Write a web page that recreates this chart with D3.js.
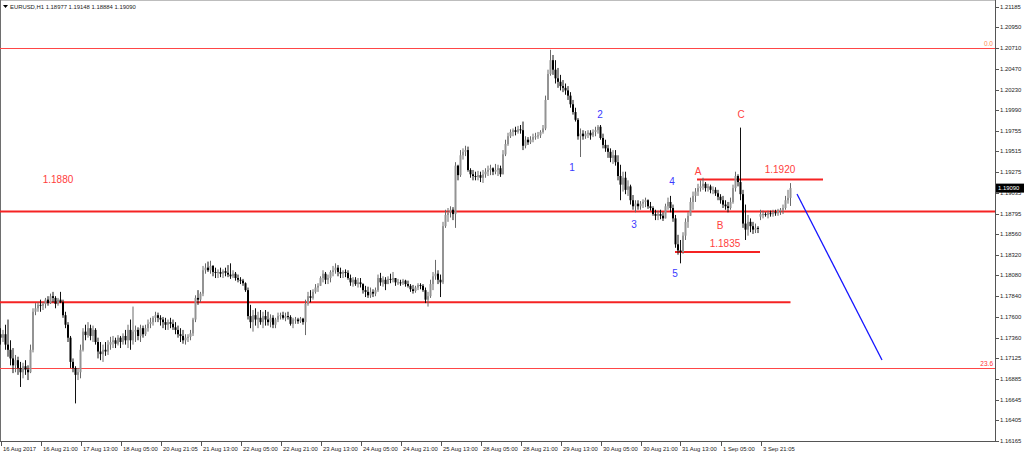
<!DOCTYPE html>
<html>
<head>
<meta charset="utf-8">
<script src="https://cdn.jsdelivr.net/npm/d3@7/dist/d3.min.js"></script>
<style>
    body { margin: 0; background: #fff; overflow: hidden; }
    svg { display: block; font-family: 'Liberation Sans', Arial, sans-serif; }
</style>
</head>
<body>
<svg id="chart" width="1024" height="457"></svg>
<script>
// EURUSD H1, one row = 16 hourly bars (one time label)
const symbolTitle = 'EURUSD,H1';
const lastBar = ['1.18977', '1.19148', '1.18884', '1.19090'];

const timeLabels = [
    '16 Aug 2017', '16 Aug 21:00', '17 Aug 13:00', '18 Aug 05:00', '20 Aug 21:05',
    '21 Aug 13:00', '22 Aug 05:00', '22 Aug 21:00', '23 Aug 13:00', '24 Aug 05:00',
    '24 Aug 21:00', '25 Aug 13:00', '28 Aug 05:00', '28 Aug 21:00', '29 Aug 13:00',
    '30 Aug 05:00', '30 Aug 21:00', '31 Aug 13:00', '1 Sep 05:00', '3 Sep 21:05'
];

const priceTicks = [
    1.21185, 1.20950, 1.20710, 1.20470, 1.20230, 1.19990, 1.19755, 1.19515,
    1.19275, 1.19035, 1.18795, 1.18560, 1.18320, 1.18080, 1.17840, 1.17600,
    1.17360, 1.17125, 1.16885, 1.16645, 1.16405, 1.16165
];

const highs = [
    1.1747,1.1745,1.1751,1.1757,1.1733,1.1724,1.1716,1.1714,1.1708,1.1707,1.1710,1.1704,1.1728,1.1770,1.1776,1.1777,
    1.1780,1.1777,1.1782,1.1784,1.1787,1.1789,1.1784,1.1782,1.1789,1.1780,1.1766,1.1754,1.1738,1.1712,1.1703,1.1701,
    1.1728,1.1747,1.1751,1.1754,1.1751,1.1750,1.1747,1.1736,1.1731,1.1728,1.1731,1.1733,1.1737,1.1738,1.1736,1.1739,
    1.1738,1.1741,1.1745,1.1751,1.1757,1.1772,1.1750,1.1748,1.1751,1.1750,1.1751,1.1757,1.1759,1.1761,1.1766,1.1765,
    1.1762,1.1760,1.1759,1.1757,1.1759,1.1757,1.1754,1.1750,1.1747,1.1745,1.1740,1.1740,1.1745,1.1759,1.1785,1.1791,
    1.1789,1.1819,1.1822,1.1824,1.1825,1.1820,1.1817,1.1815,1.1817,1.1815,1.1817,1.1820,1.1822,1.1814,1.1812,1.1809,
    1.1806,1.1804,1.1800,1.1794,1.1774,1.1768,1.1770,1.1766,1.1768,1.1766,1.1768,1.1766,1.1763,1.1762,1.1759,1.1765,
    1.1765,1.1766,1.1765,1.1766,1.1762,1.1759,1.1760,1.1759,1.1760,1.1759,1.1780,1.1789,1.1791,1.1792,1.1798,1.1799,
    1.1807,1.1814,1.1812,1.1809,1.1814,1.1819,1.1822,1.1820,1.1817,1.1814,1.1815,1.1814,1.1809,1.1806,1.1806,1.1805,
    1.1805,1.1799,1.1796,1.1795,1.1794,1.1792,1.1794,1.1809,1.1811,1.1807,1.1806,1.1807,1.1810,1.1812,1.1805,1.1804,
    1.1803,1.1804,1.1803,1.1802,1.1798,1.1797,1.1796,1.1799,1.1799,1.1798,1.1794,1.1789,1.1803,1.1812,1.1826,1.1814,
    1.1809,1.1870,1.1884,1.1886,1.1888,1.1887,1.1939,1.1936,1.1953,1.1955,1.1958,1.1957,1.1932,1.1930,1.1928,1.1929,
    1.1928,1.1930,1.1932,1.1935,1.1936,1.1933,1.1937,1.1936,1.1935,1.1953,1.1965,1.1973,1.1977,1.1978,1.1980,1.1981,
    1.1982,1.1986,1.1969,1.1968,1.1969,1.1972,1.1973,1.1974,1.1976,1.1982,1.2016,1.2046,1.2069,1.2063,1.2057,1.2048,
    1.2040,1.2034,1.2030,1.2027,1.2020,1.2011,1.2002,1.1990,1.1978,1.1976,1.1975,1.1976,1.1976,1.1977,1.1980,1.1982,
    1.1982,1.1972,1.1965,1.1959,1.1955,1.1953,1.1953,1.1947,1.1936,1.1928,1.1928,1.1918,1.1913,1.1901,1.1895,1.1895,
    1.1894,1.1896,1.1898,1.1896,1.1893,1.1888,1.1884,1.1883,1.1884,1.1881,1.1891,1.1898,1.1900,1.1890,1.1878,1.1855,
    1.1849,1.1858,1.1874,1.1881,1.1898,1.1905,1.1909,1.1914,1.1918,1.1921,1.1916,1.1914,1.1913,1.1911,1.1910,1.1907,
    1.1902,1.1900,1.1895,1.1893,1.1898,1.1913,1.1928,1.1925,1.1979,1.1907,1.1890,1.1878,1.1874,1.1870,1.1868,1.1865,
    1.1884,1.1883,1.1881,1.1883,1.1883,1.1884,1.1884,1.1885,1.1886,1.1890,1.1900,1.1907,1.19148
];

const lows = [
    1.1728,1.1731,1.1722,1.1714,1.1704,1.1695,1.1696,1.1693,1.1679,1.1689,1.1693,1.1687,1.1695,1.1719,1.1762,1.1766,
    1.1766,1.1768,1.1770,1.1773,1.1775,1.1777,1.1770,1.1773,1.1776,1.1759,1.1747,1.1731,1.1701,1.1696,1.1660,1.1687,
    1.1689,1.1720,1.1733,1.1736,1.1733,1.1731,1.1728,1.1712,1.1710,1.1708,1.1715,1.1716,1.1722,1.1724,1.1724,1.1727,
    1.1724,1.1728,1.1728,1.1724,1.1722,1.1728,1.1731,1.1733,1.1731,1.1736,1.1738,1.1743,1.1747,1.1750,1.1754,1.1754,
    1.1750,1.1747,1.1745,1.1745,1.1747,1.1745,1.1740,1.1736,1.1731,1.1729,1.1728,1.1731,1.1733,1.1738,1.1754,1.1774,
    1.1777,1.1784,1.1810,1.1812,1.1810,1.1807,1.1805,1.1805,1.1806,1.1805,1.1807,1.1806,1.1804,1.1805,1.1802,1.1800,
    1.1798,1.1796,1.1789,1.1757,1.1747,1.1743,1.1750,1.1747,1.1751,1.1747,1.1750,1.1750,1.1748,1.1747,1.1747,1.1754,
    1.1757,1.1757,1.1755,1.1757,1.1750,1.1747,1.1752,1.1752,1.1753,1.1751,1.1739,1.1773,1.1777,1.1780,1.1787,1.1789,
    1.1796,1.1800,1.1798,1.1798,1.1800,1.1807,1.1810,1.1807,1.1805,1.1805,1.1806,1.1803,1.1796,1.1795,1.1796,1.1794,
    1.1794,1.1787,1.1783,1.1782,1.1782,1.1783,1.1784,1.1789,1.1796,1.1795,1.1791,1.1798,1.1799,1.1800,1.1796,1.1797,
    1.1796,1.1797,1.1795,1.1794,1.1789,1.1787,1.1788,1.1791,1.1792,1.1789,1.1776,1.1772,1.1782,1.1791,1.1803,1.1798,
    1.1783,1.1798,1.1863,1.1870,1.1875,1.1872,1.1863,1.1918,1.1922,1.1942,1.1946,1.1928,1.1921,1.1918,1.1918,1.1918,
    1.1916,1.1915,1.1921,1.1923,1.1924,1.1924,1.1925,1.1923,1.1922,1.1928,1.1946,1.1958,1.1967,1.1969,1.1970,1.1972,
    1.1972,1.1953,1.1955,1.1959,1.1960,1.1962,1.1965,1.1966,1.1967,1.1972,1.1976,1.2011,1.2039,1.2040,1.2030,1.2025,
    1.2022,1.2020,1.2017,1.2011,1.2002,1.1994,1.1986,1.1965,1.1945,1.1965,1.1966,1.1967,1.1965,1.1968,1.1969,1.1972,
    1.1965,1.1955,1.1951,1.1944,1.1939,1.1937,1.1935,1.1918,1.1895,1.1905,1.1902,1.1900,1.1890,1.1884,1.1881,1.1884,
    1.1884,1.1886,1.1887,1.1885,1.1883,1.1877,1.1872,1.1872,1.1873,1.1871,1.1874,1.1884,1.1881,1.1870,1.1840,1.1832,
    1.1822,1.1833,1.1849,1.1863,1.1878,1.1884,1.1893,1.1900,1.1905,1.1907,1.1905,1.1905,1.1903,1.1902,1.1900,1.1895,
    1.1891,1.1886,1.1884,1.1881,1.1884,1.1891,1.1905,1.1911,1.1895,1.1863,1.1849,1.1854,1.1858,1.1856,1.1857,1.1857,
    1.1872,1.1874,1.1876,1.1874,1.1876,1.1876,1.1877,1.1877,1.1878,1.1879,1.1884,1.1891,1.18884
];

const closes = [
    1.1736,1.1740,1.1728,1.1722,1.1712,1.1704,1.1710,1.1701,1.1696,1.1703,1.1699,1.1696,1.1722,1.1766,1.1770,1.1774,
    1.1773,1.1775,1.1780,1.1776,1.1784,1.1782,1.1775,1.1780,1.1777,1.1762,1.1751,1.1736,1.1708,1.1701,1.1693,1.1696,
    1.1722,1.1743,1.1739,1.1747,1.1738,1.1745,1.1731,1.1720,1.1717,1.1722,1.1720,1.1728,1.1731,1.1733,1.1729,1.1736,
    1.1731,1.1738,1.1733,1.1745,1.1733,1.1743,1.1745,1.1738,1.1747,1.1740,1.1747,1.1752,1.1754,1.1759,1.1762,1.1759,
    1.1757,1.1754,1.1751,1.1754,1.1752,1.1748,1.1745,1.1740,1.1738,1.1733,1.1736,1.1737,1.1741,1.1757,1.1782,1.1780,
    1.1787,1.1814,1.1817,1.1814,1.1819,1.1812,1.1811,1.1812,1.1810,1.1813,1.1811,1.1809,1.1807,1.1810,1.1805,1.1803,
    1.1802,1.1799,1.1791,1.1761,1.1754,1.1762,1.1757,1.1759,1.1754,1.1761,1.1757,1.1754,1.1759,1.1751,1.1757,1.1761,
    1.1762,1.1759,1.1761,1.1760,1.1752,1.1757,1.1757,1.1755,1.1758,1.1754,1.1775,1.1784,1.1782,1.1789,1.1794,1.1796,
    1.1805,1.1810,1.1803,1.1805,1.1812,1.1814,1.1817,1.1812,1.1810,1.1812,1.1811,1.1805,1.1800,1.1803,1.1798,1.1800,
    1.1798,1.1791,1.1789,1.1785,1.1789,1.1787,1.1791,1.1805,1.1800,1.1803,1.1798,1.1804,1.1803,1.1805,1.1800,1.1800,
    1.1799,1.1802,1.1798,1.1796,1.1792,1.1790,1.1794,1.1797,1.1796,1.1791,1.1780,1.1784,1.1798,1.1807,1.1810,1.1803,
    1.1800,1.1865,1.1878,1.1881,1.1884,1.1879,1.1935,1.1924,1.1947,1.1951,1.1953,1.1930,1.1925,1.1923,1.1922,1.1924,
    1.1921,1.1925,1.1928,1.1930,1.1932,1.1928,1.1930,1.1932,1.1925,1.1948,1.1960,1.1969,1.1974,1.1976,1.1974,1.1977,
    1.1976,1.1958,1.1965,1.1962,1.1965,1.1968,1.1969,1.1970,1.1974,1.1978,1.2011,1.2041,1.2057,1.2046,1.2036,1.2032,
    1.2027,1.2025,1.2022,1.2016,1.2006,1.1997,1.1988,1.1969,1.1972,1.1969,1.1972,1.1973,1.1970,1.1974,1.1976,1.1980,
    1.1967,1.1959,1.1955,1.1951,1.1944,1.1947,1.1939,1.1923,1.1913,1.1921,1.1907,1.1911,1.1895,1.1888,1.1891,1.1888,
    1.1891,1.1893,1.1895,1.1888,1.1886,1.1879,1.1877,1.1879,1.1877,1.1874,1.1888,1.1893,1.1886,1.1874,1.1844,1.1837,
    1.1835,1.1854,1.1870,1.1877,1.1893,1.1900,1.1905,1.1909,1.1911,1.1914,1.1909,1.1911,1.1907,1.1907,1.1903,1.1899,
    1.1895,1.1890,1.1888,1.1886,1.1893,1.1909,1.1923,1.1916,1.1902,1.1868,1.1861,1.1870,1.1865,1.1861,1.1863,1.1862,
    1.1879,1.1879,1.1878,1.1880,1.1879,1.1881,1.1880,1.1883,1.1884,1.1886,1.1895,1.18977,1.19090
];

// opens = previous close, except the first bar and the Sunday open after the gap
const firstOpen = 1.1740;
const gapBars = [304];
const gapOpens = [1.1876];

// drawn levels
const fibLevels = [1.2071, 1.1701];
const fibNames = ['0.0', '23.6'];
const supportLevel = 1.1882;
const lowerLevel = 1.1777;
const lowerLevelEnd = 316;
const shortLevels = [1.1919, 1.18351];
const shortStarts = [278.6, 269.8];
const shortEnds = [329, 303.8];
const shortNames = ['1.1920', '1.1835'];
const shortNamePos = [[311.8, 1.19311], [289.8, 1.18455]];
const levelName = ['1.1880', 23, 1.19184];

const waveNames = ['1', '2', '3', '4', '5'];
const waveIdx = [228.6, 239.8, 253.4, 268.6, 269.8];
const wavePrice = [1.19334, 1.19936, 1.18675, 1.19161, 1.18108];
const abcNames = ['A', 'B', 'C'];
const abcIdx = [279, 287.8, 296.2];
const abcPrice = [1.19288, 1.18652, 1.19936];

const projIdx = [318.6, 352.6];
const projPrice = [1.19022, 1.17102];

const svg = d3.select('#chart');
const W = 1024, H = 457;
const plotRight = 995, plotBottom = 441;

const xScale = d3.scaleLinear().domain([0, 398]).range([0.5, 995.5]);
const yScale = d3.scaleLinear().domain([1.16165, 1.21185]).range([441, 7]);

svg.append('rect').attr('width', W).attr('height', H).attr('fill', '#fff');

const bars = closes.map(function(c, i) {
    let o = i === 0 ? firstOpen : closes[i - 1];
    const g = gapBars.indexOf(i);
    if (g >= 0) o = gapOpens[g];
    return { i: i, o: o, h: highs[i], l: lows[i], c: c };
});

const plot = svg.append('g');

// frame
plot.append('line')
    .attr('x1', 0).attr('x2', plotRight).attr('y1', 0.5).attr('y2', 0.5)
    .attr('stroke', '#bdbdbd');
plot.append('line')
    .attr('x1', 0.5).attr('x2', 0.5).attr('y1', 0).attr('y2', plotBottom)
    .attr('stroke', '#6e6e6e');

// fib levels
fibLevels.forEach(function(p, k) {
    plot.append('line')
        .attr('x1', 0).attr('x2', plotRight)
        .attr('y1', Math.round(yScale(p)) + 0.5).attr('y2', Math.round(yScale(p)) + 0.5)
        .attr('stroke', '#ff4646').attr('stroke-width', 1);
    plot.append('text')
        .attr('x', plotRight - 2)
        .attr('y', yScale(p) - 2)
        .attr('text-anchor', 'end')
        .attr('font-size', 6.5)
        .attr('fill', k === 0 ? '#ff8a50' : '#ff3030')
        .text(fibNames[k]);
});

// horizontal levels
plot.append('line')
    .attr('x1', 0).attr('x2', plotRight)
    .attr('y1', yScale(supportLevel)).attr('y2', yScale(supportLevel))
    .attr('stroke', '#f52323').attr('stroke-width', 2);
plot.append('line')
    .attr('x1', 0).attr('x2', xScale(lowerLevelEnd))
    .attr('y1', yScale(lowerLevel)).attr('y2', yScale(lowerLevel))
    .attr('stroke', '#f52323').attr('stroke-width', 2);
shortLevels.forEach(function(p, k) {
    plot.append('line')
        .attr('x1', xScale(shortStarts[k])).attr('x2', xScale(shortEnds[k]))
        .attr('y1', yScale(p)).attr('y2', yScale(p))
        .attr('stroke', '#f52323').attr('stroke-width', 2);
    plot.append('text')
        .attr('x', xScale(shortNamePos[k][0]))
        .attr('y', yScale(shortNamePos[k][1]))
        .attr('text-anchor', 'middle')
        .attr('dominant-baseline', 'central')
        .attr('font-size', 10)
        .attr('fill', '#ff3c3c')
        .text(shortNames[k]);
});
plot.append('text')
    .attr('x', xScale(levelName[1]))
    .attr('y', yScale(levelName[2]))
    .attr('text-anchor', 'middle')
    .attr('dominant-baseline', 'central')
    .attr('font-size', 10)
    .attr('fill', '#ff3c3c')
    .text(levelName[0]);

// candles
const candle = plot.append('g')
    .selectAll('g')
    .data(bars)
    .enter()
    .append('g');

candle.append('line')
    .attr('x1', d => xScale(d.i)).attr('x2', d => xScale(d.i))
    .attr('y1', d => yScale(Math.max(d.h, d.o, d.c)))
    .attr('y2', d => yScale(Math.min(d.l, d.o, d.c)))
    .attr('stroke', d => d.c >= d.o ? '#6a6a6a' : '#111')
    .attr('stroke-width', 1);

candle.append('rect')
    .attr('x', d => xScale(d.i) - 1)
    .attr('width', 2)
    .attr('y', d => yScale(Math.max(d.o, d.c)))
    .attr('height', d => Math.max(1, Math.abs(yScale(d.o) - yScale(d.c))))
    .attr('fill', d => d.c >= d.o ? '#939393' : '#000');

// wave counts
waveNames.forEach(function(t, k) {
    plot.append('text')
        .attr('x', xScale(waveIdx[k]))
        .attr('y', yScale(wavePrice[k]))
        .attr('text-anchor', 'middle')
        .attr('dominant-baseline', 'central')
        .attr('font-size', 10)
        .attr('fill', '#3a3aff')
        .text(t);
});
abcNames.forEach(function(t, k) {
    plot.append('text')
        .attr('x', xScale(abcIdx[k]))
        .attr('y', yScale(abcPrice[k]))
        .attr('text-anchor', 'middle')
        .attr('dominant-baseline', 'central')
        .attr('font-size', 10)
        .attr('fill', '#ff4040')
        .text(t);
});

// projection
plot.append('line')
    .attr('x1', xScale(projIdx[0])).attr('y1', yScale(projPrice[0]))
    .attr('x2', xScale(projIdx[1])).attr('y2', yScale(projPrice[1]))
    .attr('stroke', '#1515ff').attr('stroke-width', 1.3);

// right price axis
const yAxis = svg.append('g');
yAxis.append('line')
    .attr('x1', plotRight + 0.5).attr('x2', plotRight + 0.5)
    .attr('y1', 0).attr('y2', plotBottom + 1)
    .attr('stroke', '#555');
priceTicks.forEach(function(p) {
    yAxis.append('line')
        .attr('x1', plotRight).attr('x2', plotRight + 4)
        .attr('y1', Math.round(yScale(p)) + 0.5).attr('y2', Math.round(yScale(p)) + 0.5)
        .attr('stroke', '#555');
    yAxis.append('text')
        .attr('x', plotRight + 5)
        .attr('y', yScale(p))
        .attr('dominant-baseline', 'central')
        .attr('font-size', 5.9)
        .attr('fill', '#222')
        .text(p.toFixed(5));
});

// bid tag
const bid = +lastBar[3];
yAxis.append('rect')
    .attr('x', plotRight + 1).attr('y', yScale(bid) - 4.5)
    .attr('width', 29).attr('height', 9)
    .attr('fill', '#000');
yAxis.append('text')
    .attr('x', plotRight + 3).attr('y', yScale(bid))
    .attr('dominant-baseline', 'central')
    .attr('font-size', 5.9)
    .attr('fill', '#fff')
    .text(lastBar[3]);

// bottom time axis
const xAxis = svg.append('g');
xAxis.append('line')
    .attr('x1', 0).attr('x2', plotRight + 1)
    .attr('y1', plotBottom + 0.5).attr('y2', plotBottom + 0.5)
    .attr('stroke', '#555');
timeLabels.forEach(function(t, k) {
    const x = Math.round(xScale(k * 16)) + 0.5;
    xAxis.append('line')
        .attr('x1', x).attr('x2', x)
        .attr('y1', plotBottom).attr('y2', plotBottom + 5)
        .attr('stroke', '#555');
    xAxis.append('text')
        .attr('x', x + 1.5)
        .attr('y', plotBottom + 8)
        .attr('dominant-baseline', 'central')
        .attr('font-size', 5.9)
        .attr('fill', '#222')
        .text(t);
});

// header
svg.append('path')
    .attr('d', 'M3,5 L8,5 L5.5,8 Z')
    .attr('fill', '#000');
svg.append('text')
    .attr('x', 10).attr('y', 6.5)
    .attr('dominant-baseline', 'central')
    .attr('font-size', 5.9)
    .attr('fill', '#222')
    .text(symbolTitle + '  ' + lastBar.join(' '));
</script>
</body>
</html>
